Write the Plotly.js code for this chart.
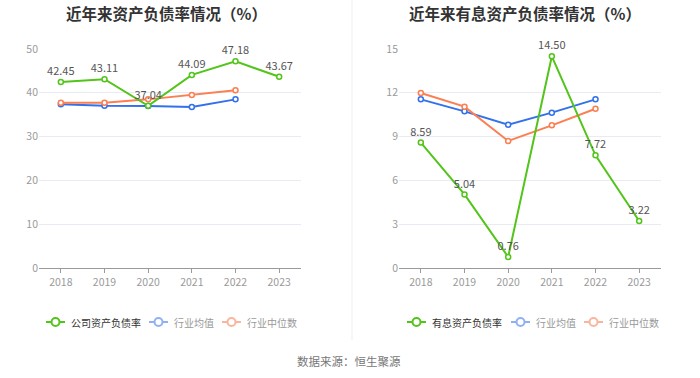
<!DOCTYPE html>
<html>
<head>
<meta charset="utf-8">
<script src="https://cdn.plot.ly/plotly-3.0.1.min.js"></script>
<style>html,body{margin:0;padding:0;background:#fff;}#chart{width:700px;height:378px;}</style>
</head>
<body>
<div id="chart"></div>
<script>
const years = ['2018','2019','2020','2021','2022','2023'];
const debtRatio = [42.45, 43.11, 37.04, 44.09, 47.18, 43.67];
const debtIndAvg = [37.37, 37.06, 36.99, 36.76, 38.5];
const debtIndMed = [37.7, 37.7, 38.5, 39.5, 40.6];
const intDebtRatio = [8.59, 5.04, 0.76, 14.50, 7.72, 3.22];
const intIndAvg = [11.55, 10.73, 9.82, 10.64, 11.55];
const intIndMed = [11.99, 11.05, 8.70, 9.77, 10.91];
const leftTitle = '近年来资产负债率情况（%）';
const rightTitle = '近年来有息资产负债率情况（%）';
const leftLegend = ['公司资产负债率', '行业均值', '行业中位数'];
const rightLegend = ['有息资产负债率', '行业均值', '行业中位数'];
const sourceText = '数据来源：恒生聚源';

const FONT = 'Noto Sans CJK SC, Noto Sans, sans-serif';
const GREEN = '#52c41a', BLUE = '#3370eb', ORANGE = '#fb7f52';
const PALE_BLUE = '#91b0f3', PALE_ORANGE = '#f9b69c';

function series(x, y, color, xa, ya, withText) {
  const t = {
    x: x.slice(0, y.length), y: y, xaxis: xa, yaxis: ya,
    type: 'scatter', mode: withText ? 'lines+markers+text' : 'lines+markers',
    line: {color: color, width: 2},
    marker: {symbol: 'circle', size: 5, color: '#ffffff', line: {color: color, width: 1.5}},
    showlegend: false, hoverinfo: 'x+y', cliponaxis: false
  };
  if (withText) {
    t.text = y.map(v => v.toFixed(2));
    t.textposition = 'top center';
    t.textfont = {family: FONT, size: 11, color: '#555555'};
  }
  return t;
}

const data = [
  series(years, debtIndAvg, BLUE, 'x', 'y', false),
  series(years, debtIndMed, ORANGE, 'x', 'y', false),
  series(years, debtRatio, GREEN, 'x', 'y', true),
  series(years, intIndAvg, BLUE, 'x2', 'y2', false),
  series(years, intIndMed, ORANGE, 'x2', 'y2', false),
  series(years, intDebtRatio, GREEN, 'x2', 'y2', true)
];

const yDom = [1 - 268/378, 1 - 49/378];
function xaxis(dom, anchor) {
  return {domain: dom, anchor: anchor, type: 'category', range: [-0.5, 5.5],
    showgrid: false, zeroline: false, showline: true, linecolor: '#9a9a9a', linewidth: 1,
    ticks: 'outside', ticklen: 4, tickcolor: '#9a9a9a',
    tickfont: {family: FONT, size: 10.5, color: '#9a9a9a'}, fixedrange: true};
}
function yaxis(dom, anchor, max, dtick) {
  return {domain: dom, anchor: anchor, range: [0, max], dtick: dtick, tick0: 0,
    showgrid: true, gridcolor: '#e8ebf3', gridwidth: 1, zeroline: false, showline: false,
    ticks: '', ticklen: 0, tickfont: {family: FONT, size: 10.5, color: '#9a9a9a'}, fixedrange: true};
}

const annotations = [
  {text: '<b>' + leftTitle + '</b>', x: 166/700, y: 1 - 13/378, xref: 'paper', yref: 'paper',
   xanchor: 'center', yanchor: 'middle', showarrow: false, font: {family: FONT, size: 15.5, color: '#333333'}},
  {text: '<b>' + rightTitle + '</b>', x: 525/700, y: 1 - 13/378, xref: 'paper', yref: 'paper',
   xanchor: 'center', yanchor: 'middle', showarrow: false, font: {family: FONT, size: 15.5, color: '#333333'}},
  {text: sourceText, x: 349/700, y: 1 - 361/378, xref: 'paper', yref: 'paper',
   xanchor: 'center', yanchor: 'middle', showarrow: false, font: {family: FONT, size: 11.5, color: '#777777'}}
];
const shapes = [
  {type: 'line', xref: 'paper', yref: 'paper', x0: 352/700, x1: 352/700, y0: 1 - 340/378, y1: 1,
   line: {color: '#efefef', width: 1}}
];

// legends
const legY = 1 - 322/378;
const legIconStarts = [[46, 149, 222], [407, 511, 584]];
const legLabels = [leftLegend, rightLegend];
const legColors = [GREEN, PALE_BLUE, PALE_ORANGE];
const legTextColors = ['#333333', '#999999', '#999999'];
legIconStarts.forEach((starts, g) => {
  starts.forEach((sx, i) => {
    const w = 19, c = legColors[i];
    shapes.push({type: 'line', xref: 'paper', yref: 'paper', x0: sx/700, x1: (sx + w)/700,
      y0: legY, y1: legY, line: {color: c, width: 2}});
    const cx = sx + w/2, r = 4;
    shapes.push({type: 'circle', xref: 'paper', yref: 'paper', x0: (cx - r)/700, x1: (cx + r)/700,
      y0: legY - r/378, y1: legY + r/378, fillcolor: '#ffffff', line: {color: c, width: 2}});
    annotations.push({text: legLabels[g][i], x: (sx + w + 4)/700, y: legY, xref: 'paper', yref: 'paper',
      xanchor: 'left', yanchor: 'middle', showarrow: false,
      font: {family: FONT, size: 10, color: legTextColors[i]}});
  });
});

const layout = {
  width: 700, height: 378, margin: {l: 0, r: 0, t: 0, b: 0},
  paper_bgcolor: '#ffffff', plot_bgcolor: '#ffffff', showlegend: false,
  font: {family: FONT},
  xaxis: xaxis([39/700, 301/700], 'y'),
  yaxis: yaxis(yDom, 'x', 50, 10),
  xaxis2: xaxis([399/700, 661/700], 'y2'),
  yaxis2: yaxis(yDom, 'x2', 15, 3),
  annotations: annotations, shapes: shapes
};

Plotly.newPlot('chart', data, layout, {displayModeBar: false, staticPlot: true});
</script>
</body>
</html>
